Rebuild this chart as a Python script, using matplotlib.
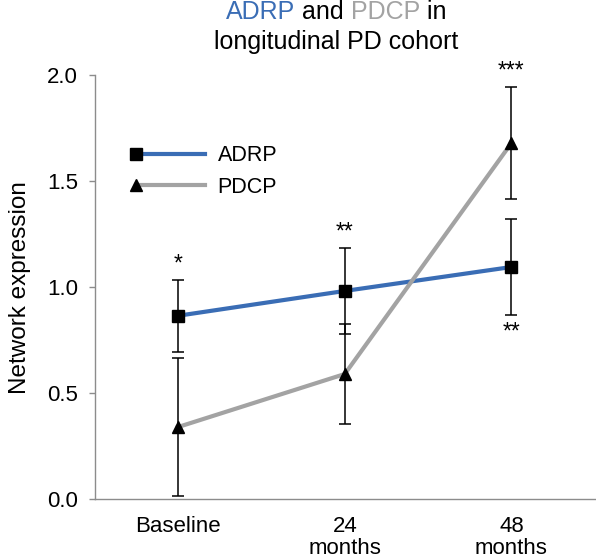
import matplotlib
matplotlib.use('Agg')
import matplotlib.pyplot as plt
from matplotlib.legend_handler import HandlerLine2D

plt.rcParams['font.family'] = ['Liberation Sans', 'DejaVu Sans']

timepoints = ['Baseline', '24\nmonths', '48\nmonths']
adrp = [0.865, 0.982, 1.095]
adrp_err = [0.17, 0.204, 0.228]
pdcp = [0.34, 0.59, 1.68]
pdcp_err = [0.325, 0.236, 0.265]
# significance marks: (series, index, text, above?)
stars = [('adrp', 0, '*', True), ('adrp', 1, '**', True),
         ('pdcp', 2, '***', True), ('adrp', 2, '**', False)]

blue = '#3a6db5'
gray = '#a3a3a3'
axis_gray = '#8c8c8c'


class LeftMarker(HandlerLine2D):
    # legend marker on the left end of the line
    def create_artists(self, legend, orig, xd, yd, w, h, fs, trans):
        arts = super().create_artists(legend, orig, xd, yd, w, h, fs, trans)
        arts[0].set_markevery([0])
        return arts


fig = plt.figure(figsize=(5.96, 5.57), dpi=100)
ax = fig.add_axes([0.159, 0.104, 0.839, 0.761])

x = list(range(len(timepoints)))
ax.plot(x, adrp, color=blue, lw=3, marker='s', ms=8, mfc='black', mec='black',
        label='ADRP', zorder=2)
ax.plot(x, pdcp, color=gray, lw=3, marker='^', ms=8.5, mfc='black', mec='black',
        label='PDCP', zorder=2)
ax.errorbar(x, adrp, yerr=adrp_err, fmt='none', ecolor='black', elinewidth=1.1,
            capsize=4, capthick=1.1, zorder=3)
ax.errorbar(x, pdcp, yerr=pdcp_err, fmt='none', ecolor='black', elinewidth=1.1,
            capsize=4, capthick=1.1, zorder=3)

series = {'adrp': (adrp, adrp_err), 'pdcp': (pdcp, pdcp_err)}
for name, i, txt, above in stars:
    vals, errs = series[name]
    if above:
        ax.annotate(txt, (i, vals[i] + errs[i]), xytext=(0, 3), textcoords='offset points',
                    ha='center', va='bottom', fontsize=16.5, annotation_clip=False)
    else:
        ax.annotate(txt, (i, vals[i] - errs[i]), xytext=(0, -4), textcoords='offset points',
                    ha='center', va='top', fontsize=16.5, annotation_clip=False)

ax.set_xlim(-0.5, 2.5)
ax.set_ylim(0, 2.0)
ax.set_yticks([0, 0.5, 1.0, 1.5, 2.0])
ax.set_yticklabels(['0.0', '0.5', '1.0', '1.5', '2.0'])
ax.set_xticks(x)
ax.set_xticklabels(timepoints, linespacing=1.05)
ax.tick_params(axis='x', length=0, pad=12, labelsize=16)
ax.tick_params(axis='y', length=4, width=1, color=axis_gray, pad=8, labelsize=16)
for s in ['top', 'right']:
    ax.spines[s].set_visible(False)
for s in ['left', 'bottom']:
    ax.spines[s].set_color(axis_gray)
    ax.spines[s].set_linewidth(1)

ax.set_ylabel('Network expression', fontsize=17.5)
ax.yaxis.set_label_coords(-0.128, 0.5)

ax.legend(loc='upper left', bbox_to_anchor=(0.082, 0.835), frameon=False, fontsize=15.5,
          handlelength=3.2, handletextpad=0.6, borderpad=0, borderaxespad=0,
          labelspacing=0.5, numpoints=1,
          handler_map={plt.Line2D: LeftMarker()})

# two-line title, first line in colours
fig.canvas.draw()
r = fig.canvas.get_renderer()
parts = [('ADRP', blue), (' and ', 'black'), ('PDCP', gray), (' in', 'black')]
texts = []
xpos = 0
for s, c in parts:
    t = fig.text(xpos, 0.966, s, color=c, fontsize=18, ha='left', va='baseline')
    w = t.get_window_extent(r).width / fig.bbox.width
    texts.append((t, xpos))
    xpos += w
start = 0.564 - xpos / 2
for t, off in texts:
    t.set_x(start + off)
fig.text(0.564, 0.912, 'longitudinal PD cohort', fontsize=18, ha='center', va='baseline')

fig.savefig('out.png', dpi=100)
